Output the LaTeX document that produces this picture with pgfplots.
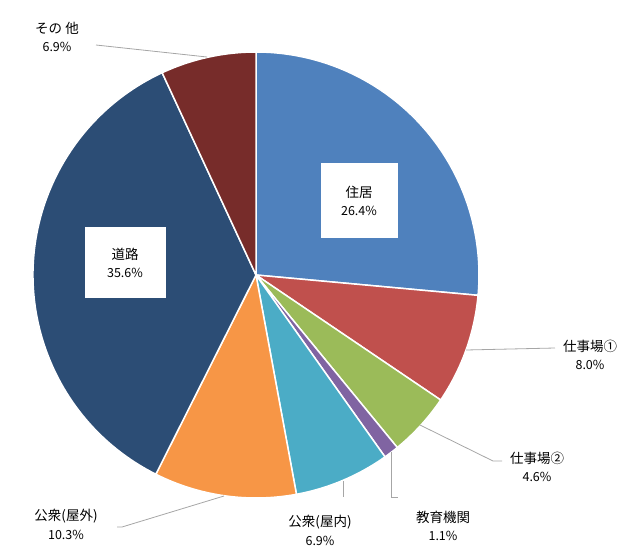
\documentclass[border=0pt]{standalone}
\usepackage{pgfplots}
\pgfplotsset{compat=1.18}
\usepackage{pgfplotstable}
\usepackage{fontspec}
\setmainfont{Noto Sans CJK JP}

\definecolor{cJukyo}{HTML}{4F81BD}
\definecolor{cShigotoA}{HTML}{C0504D}
\definecolor{cShigotoB}{HTML}{9BBB59}
\definecolor{cKyoiku}{HTML}{8064A2}
\definecolor{cOkunai}{HTML}{4BACC6}
\definecolor{cOkugai}{HTML}{F79646}
\definecolor{cDoro}{HTML}{2C4D75}
\definecolor{cSonota}{HTML}{772C2A}
\definecolor{leader}{HTML}{A6A6A6}

% share (%) of each place, clockwise from 12 o'clock
\pgfplotstableread{
value col
26.4 cJukyo
8.0  cShigotoA
4.6  cShigotoB
1.1  cKyoiku
6.9  cOkunai
10.3 cOkugai
35.6 cDoro
6.9  cSonota
}\piedata

\newcommand{\lbl}[4]{% x, y of name, name, percent
  \node[font=\fontsize{13.5}{15}\selectfont] at (axis cs:#1,#2) {#3};
  \node[font=\fontsize{12.5}{14}\selectfont] at (axis cs:#1,#2+19) {#4};
}

\begin{document}
\begin{tikzpicture}
\begin{axis}[
    x=1pt, y=1pt,
    xmin=0, xmax=622,
    ymin=0, ymax=555,
    y dir=reverse,
    hide axis,
    clip=false,
]
\path (axis cs:0,0) rectangle (axis cs:622,555);

\def\cum{0}
\def\total{99.8}
\pgfplotsforeachungrouped \i in {0,...,7}{
    \pgfplotstablegetelem{\i}{value}\of\piedata \let\v\pgfplotsretval
    \pgfplotstablegetelem{\i}{col}\of\piedata \let\c\pgfplotsretval
    \pgfmathsetmacro\aa{90-\cum/\total*360}
    \pgfmathsetmacro\cum{\cum+\v}
    \pgfmathsetmacro\ab{90-\cum/\total*360}
    \pgfmathsetmacro\xa{256+223*cos(\aa)}
    \pgfmathsetmacro\ya{275-223*sin(\aa)}
    \edef\temp{\noexpand\fill[fill=\c, draw=white, line width=1.5pt, line join=round]
        (axis cs:256,275) -- (axis cs:\xa,\ya)
        arc[start angle=\aa, end angle=\ab, radius=223pt] -- cycle;}
    \temp
}

% boxed labels inside slices
\fill[white] (axis cs:321,163) rectangle (axis cs:398,238);
\lbl{359}{192}{住居}{26.4\%}
\fill[white] (axis cs:85,227) rectangle (axis cs:166,298);
\lbl{125}{254}{道路}{35.6\%}

% leader lines
\draw[leader, line width=0.8pt] (axis cs:96,45) -- (axis cs:207,57);
\draw[leader, line width=0.8pt] (axis cs:466,350) -- (axis cs:555,348);
\draw[leader, line width=0.8pt] (axis cs:420,425) -- (axis cs:493,461) -- (axis cs:502,461);
\draw[leader, line width=0.8pt] (axis cs:391,452) -- (axis cs:391,497) -- (axis cs:398,497);
\draw[leader, line width=0.8pt] (axis cs:343,481) -- (axis cs:343,497);
\draw[leader, line width=0.8pt] (axis cs:224,496) -- (axis cs:122,527) -- (axis cs:117,527);

% outside labels
\lbl{57}{28}{その 他}{6.9\%}
\lbl{590}{346}{仕事場①}{8.0\%}
\lbl{537}{458}{仕事場②}{4.6\%}
\lbl{443}{517}{教育機関}{1.1\%}
\lbl{320}{522}{公衆(屋内)}{6.9\%}
\lbl{66}{516}{公衆(屋外)}{10.3\%}
\end{axis}
\end{tikzpicture}
\end{document}
